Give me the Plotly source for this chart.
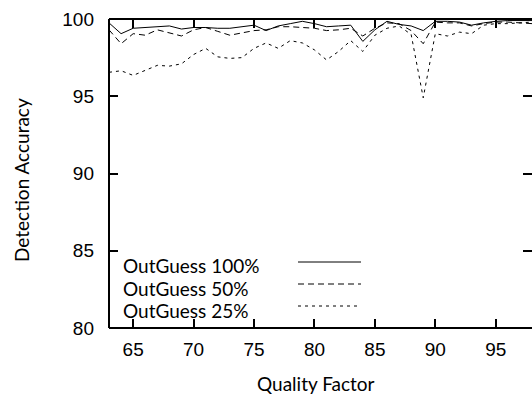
import plotly.graph_objects as go

qf = list(range(63, 99))
og100 = [99.75, 99.05, 99.4, 99.45, 99.5, 99.55, 99.35, 99.45, 99.45, 99.4,
         99.4, 99.5, 99.6, 99.25, 99.55, 99.7, 99.85, 99.7, 99.5, 99.55,
         99.6, 98.55, 99.3, 99.85, 99.65, 99.55, 99.25, 99.85, 99.85, 99.8,
         99.6, 99.75, 99.85, 99.9, 99.9, 99.9]
og50 = [99.3, 98.4, 99.05, 98.95, 99.3, 99.1, 98.9, 99.3, 99.45, 99.2,
        98.95, 99.1, 99.25, 99.3, 99.5, 99.5, 99.45, 99.4, 99.25, 99.3,
        99.4, 98.9, 99.4, 99.75, 99.7, 99.25, 98.4, 99.8, 99.75, 99.75,
        99.55, 99.7, 99.8, 99.8, 99.75, 99.7]
og25 = [96.55, 96.65, 96.35, 96.7, 97.0, 96.95, 97.1, 97.7, 98.1, 97.55,
        97.45, 97.5, 98.1, 98.45, 98.1, 98.6, 98.45, 98.0, 97.35, 97.9,
        98.6, 97.9, 98.95, 99.4, 99.55, 99.0, 94.9, 99.05, 98.9, 99.15,
        99.05, 99.6, 99.7, 99.7, 99.75, 99.8]

names = ["OutGuess 100%", "OutGuess 50%", "OutGuess 25%"]
dashes = ["solid", "6px,4px", "3px,4px"]
series = [og100, og50, og25]

x_ticks = [65, 70, 75, 80, 85, 90, 95]
y_ticks = [80, 85, 90, 95, 100]

fig = go.Figure()
for nm, ys, d in zip(names, series, dashes):
    fig.add_trace(go.Scatter(x=qf, y=ys, mode="lines", name=nm,
                             line=dict(color="black", width=1, dash=d),
                             showlegend=False))
# invisible trace on mirror axes
fig.add_trace(go.Scatter(x=[qf[0]], y=[og100[0]], xaxis="x2", yaxis="y2",
                         mode="markers", marker=dict(opacity=0), showlegend=False,
                         hoverinfo="skip"))

tickfont = dict(family="Liberation Sans, Arial", size=19, color="black")
fig.update_layout(
    width=532, height=395,
    margin=dict(l=109, r=0, t=19, b=67),
    paper_bgcolor="white", plot_bgcolor="white",
    xaxis=dict(range=[63, 98], tickvals=x_ticks, ticks="inside", ticklen=9,
               tickwidth=2, tickcolor="black", showgrid=False, zeroline=False,
               showline=False, tickfont=tickfont, ticklabelstandoff=8),
    yaxis=dict(range=[80, 100], tickvals=y_ticks, ticks="inside", ticklen=9,
               tickwidth=2, tickcolor="black", showgrid=False, zeroline=False,
               showline=False, tickfont=tickfont, ticklabelstandoff=14),
    xaxis2=dict(overlaying="x", side="top", matches="x", tickvals=x_ticks,
                ticks="inside", ticklen=9, tickwidth=2, tickcolor="black",
                showticklabels=False, showgrid=False, zeroline=False, showline=False),
    yaxis2=dict(overlaying="y", side="right", matches="y", tickvals=y_ticks,
                ticks="inside", ticklen=9, tickwidth=2, tickcolor="black",
                showticklabels=False, showgrid=False, zeroline=False, showline=False),
)

# frame (left, top, bottom)
for x0, y0, x1, y1 in [(0, 0, 0, 1), (0, 1, 1, 1), (0, 0, 1, 0)]:
    fig.add_shape(type="line", xref="paper", yref="paper", x0=x0, y0=y0, x1=x1, y1=y1,
                  line=dict(color="black", width=2))

titlefont = dict(family="Lato, Open Sans", size=19, color="black")
fig.add_annotation(text="Quality Factor", xref="paper", yref="paper",
                   x=(316 - 109) / 423, y=(328 - 383) / 309, showarrow=False,
                   xanchor="center", yanchor="middle", font=titlefont)
fig.add_annotation(text="Detection Accuracy", xref="paper", yref="paper",
                   x=(21 - 109) / 423, y=(328 - 180) / 309, showarrow=False,
                   textangle=-90, xanchor="center", yanchor="middle", font=titlefont)

# legend (manual, bottom-left)
rows_text = [265, 288, 310]
rows_line = [262, 284, 306]
for nm, d, ty, ly in zip(names, dashes, rows_text, rows_line):
    fig.add_annotation(text=nm, xref="paper", yref="paper",
                       x=(121 - 109) / 423, y=(328 - ty) / 309, showarrow=False,
                       xanchor="left", yanchor="middle", font=titlefont)
    fig.add_shape(type="line", xref="paper", yref="paper",
                  x0=(298 - 109) / 423, x1=(361 - 109) / 423,
                  y0=(328 - ly) / 309, y1=(328 - ly) / 309,
                  line=dict(color="black", width=1, dash=d))

fig.write_html("out.html")
